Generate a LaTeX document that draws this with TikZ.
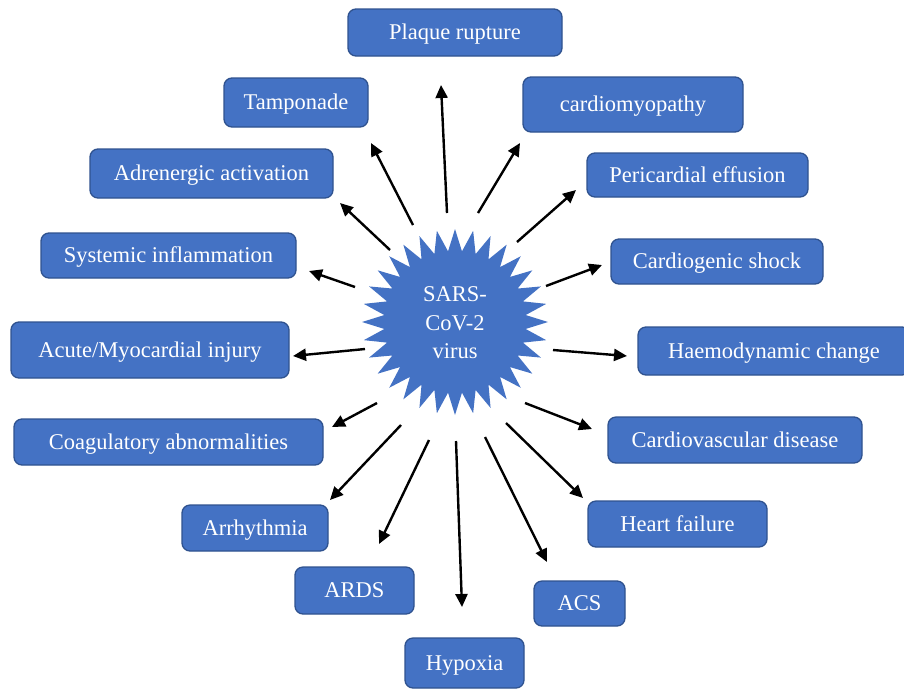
\documentclass[tikz,border=0pt]{standalone}
\usepackage{fontspec}
\setmainfont{Liberation Serif}
\usetikzlibrary{arrows.meta,calc}
\definecolor{boxfill}{HTML}{4472C4}
\definecolor{boxedge}{HTML}{2F528F}
\definecolor{starfill}{HTML}{4472C4}
\begin{document}
\begin{tikzpicture}[x=1pt,y=-1pt,
  box/.style={draw=boxedge, line width=1.3pt, fill=boxfill, rounded corners=8pt,
    text=white, font=\fontsize{22.5}{27}\selectfont, inner sep=0pt, anchor=center,
    text height=16pt, text depth=1.5pt},
  arr/.style={line width=2.4pt, -{Triangle[length=13pt,width=12pt]}}]
\useasboundingbox (0,0) rectangle (904,689);
% star
\fill[starfill] (455,322) ++(90:93)
  \foreach \i in {1,...,63} { -- ($(455,322)+({90+\i*5.625}:{ifthenelse(mod(\i,2)==0,93,71)})$) } -- cycle;
\node[text=white, align=center, font=\fontsize{22.5}{28.5}\selectfont, inner sep=0pt] (virus) at (455,323) {SARS-\\CoV-2\\virus};
% boxes
\node[box, minimum width=214pt, minimum height=47pt] (plaque) at (455,32.5) {Plaque rupture};
\node[box, minimum width=144pt, minimum height=49pt] (tamp) at (296,102.5) {Tamponade};
\node[box, minimum width=220pt, minimum height=55pt] (cardio) at (633,104.5) {cardiomyopathy};
\node[box, minimum width=243pt, minimum height=49pt] (adren) at (211.5,173.5) {Adrenergic activation};
\node[box, minimum width=221pt, minimum height=44pt] (peri) at (697.5,175) {Pericardial effusion};
\node[box, minimum width=255pt, minimum height=45pt] (syst) at (168.5,255.5) {Systemic inflammation};
\node[box, minimum width=212pt, minimum height=45pt] (shock) at (717,261.5) {Cardiogenic shock};
\node[box, minimum width=278pt, minimum height=56pt] (acute) at (150,350) {Acute/Myocardial injury};
\node[box, minimum width=272pt, minimum height=48pt] (haemo) at (774,351) {Haemodynamic change};
\node[box, minimum width=309pt, minimum height=46pt] (coag) at (168.5,442) {Coagulatory abnormalities};
\node[box, minimum width=254pt, minimum height=46pt] (cvd) at (735,440) {Cardiovascular disease};
\node[box, minimum width=146pt, minimum height=46pt] (arr) at (255,528) {Arrhythmia};
\node[box, minimum width=179pt, minimum height=46pt] (hf) at (677.5,524) {Heart failure};
\node[box, minimum width=119pt, minimum height=47pt] (ards) at (354.5,590.5) {ARDS};
\node[box, minimum width=91pt, minimum height=45pt] (acs) at (579.5,603.5) {ACS};
\node[box, minimum width=119pt, minimum height=50pt] (hyp) at (464.5,663) {Hypoxia};
% arrow end points
\coordinate (s-plaque) at (447,213); \coordinate (t-plaque) at (441,85);
\coordinate (s-tamp) at (413,225);   \coordinate (t-tamp) at (371,143);
\coordinate (s-cardio) at (478,213); \coordinate (t-cardio) at (520,143);
\coordinate (s-adren) at (390,250);  \coordinate (t-adren) at (340,203);
\coordinate (s-peri) at (517,242);   \coordinate (t-peri) at (576,190);
\coordinate (s-syst) at (355,287);   \coordinate (t-syst) at (309,271);
\coordinate (s-shock) at (546,286);  \coordinate (t-shock) at (602,265);
\coordinate (s-acute) at (365,349);  \coordinate (t-acute) at (293,356);
\coordinate (s-haemo) at (553,350);  \coordinate (t-haemo) at (627,356);
\coordinate (s-coag) at (377,403);   \coordinate (t-coag) at (332,427);
\coordinate (s-cvd) at (525,403);    \coordinate (t-cvd) at (592,429);
\coordinate (s-arr) at (401,425);    \coordinate (t-arr) at (330,500);
\coordinate (s-hf) at (506,423);     \coordinate (t-hf) at (583,498);
\coordinate (s-ards) at (429,440);   \coordinate (t-ards) at (379,544);
\coordinate (s-hyp) at (456,441);    \coordinate (t-hyp) at (462,607);
\coordinate (s-acs) at (485,437);    \coordinate (t-acs) at (547,562);
\foreach \n in {plaque,tamp,cardio,adren,peri,syst,shock,acute,haemo,coag,cvd,arr,hf,ards,hyp,acs}
  \draw[arr] (s-\n) -- (t-\n);
\end{tikzpicture}
\end{document}
